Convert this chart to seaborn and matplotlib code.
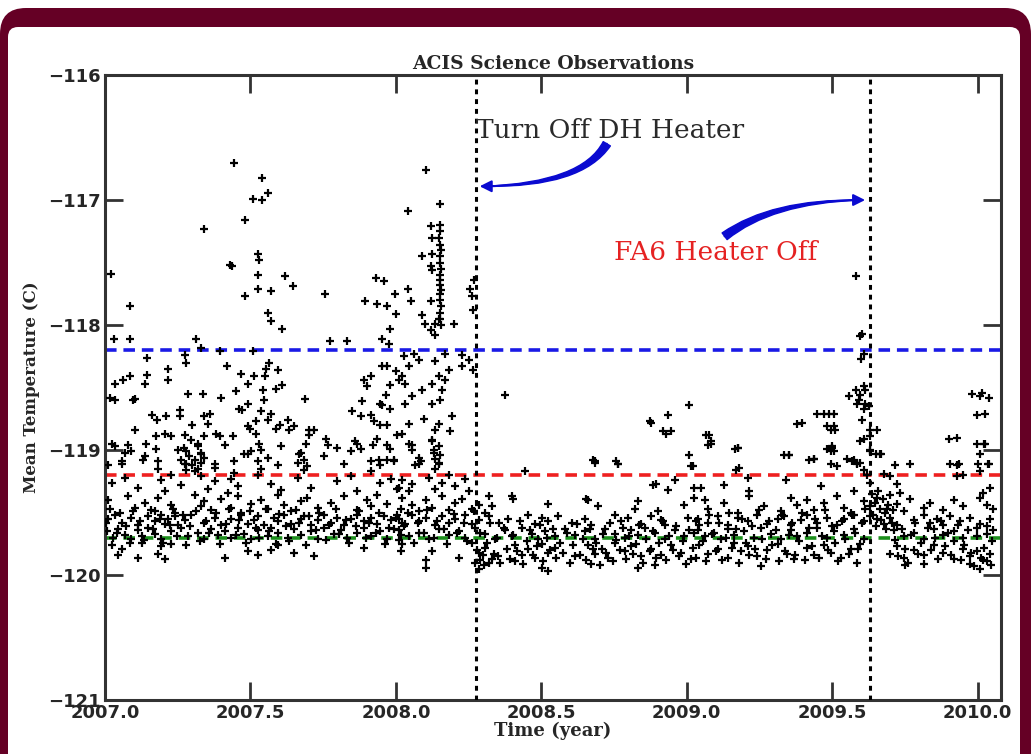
import pandas as pd
import matplotlib
matplotlib.use("Agg")
import matplotlib.pyplot as plt
import seaborn as sns
from matplotlib.patches import FancyBboxPatch
from matplotlib.transforms import IdentityTransform

# --- data: (year, mean temperature C) ---
high_2007 = [
    (2007.445, -116.70), (2007.54, -116.82), (2007.51, -116.99), (2007.54, -117.00), (2007.56, -116.94),
    (2007.48, -117.16), (2007.34, -117.23), (2007.43, -117.52), (2007.435, -117.53), (2007.525, -117.43),
    (2007.53, -117.48), (2007.525, -117.60), (2007.525, -117.71), (2007.48, -117.77), (2007.57, -117.73),
    (2007.62, -117.61), (2007.645, -117.69), (2007.56, -117.90), (2007.57, -117.97), (2007.61, -118.03),
    (2007.02, -117.59), (2007.085, -117.85), (2007.03, -118.11), (2007.085, -118.11), (2007.757, -117.75),
    (2007.93, -117.62), (2007.96, -117.65), (2007.894, -117.81), (2007.936, -117.83), (2007.97, -117.85),
    (2007.997, -117.75), (2008.0, -117.91), (2007.98, -118.03), (2007.976, -118.15), (2007.953, -118.11),
    (2007.774, -118.13), (2007.833, -118.13), (2007.314, -118.11), (2007.33, -118.18), (2007.394, -118.21),
    (2007.508, -118.21), (2007.143, -118.26), (2007.274, -118.24), (2007.28, -118.30), (2007.42, -118.33),
    (2007.217, -118.35), (2007.217, -118.44), (2007.143, -118.40), (2007.137, -118.47), (2007.034, -118.47),
    (2007.063, -118.44), (2007.085, -118.41), (2007.034, -118.60), (2007.103, -118.59), (2007.285, -118.55),
    (2007.337, -118.55), (2007.40, -118.58), (2007.468, -118.39), (2007.511, -118.41), (2007.55, -118.41),
    (2007.49, -118.47), (2007.565, -118.30), (2007.594, -118.36), (2007.554, -118.35), (2007.588, -118.51),
    (2007.61, -118.48), (2007.542, -118.52), (2007.45, -118.53), (2007.548, -118.60), (2007.462, -118.67),
    (2007.49, -118.63), (2007.688, -118.59), (2007.89, -118.44), (2007.913, -118.41), (2007.90, -118.49),
    (2007.953, -118.33), (2007.97, -118.33), (2008.0, -118.37), (2008.01, -118.44), (2007.965, -118.56),
    (2007.98, -118.48), (2007.885, -118.61), (2007.947, -118.63), (2007.16, -118.72), (2007.18, -118.76),
    (2007.21, -118.73), (2007.257, -118.68), (2007.257, -118.73), (2007.30, -118.80), (2007.34, -118.73),
    (2007.36, -118.71), (2007.354, -118.79), (2007.47, -118.68), (2007.537, -118.69), (2007.57, -118.71),
    (2007.60, -118.80), (2007.628, -118.76), (2007.65, -118.81), (2007.52, -118.77), (2007.56, -118.76),
    (2007.49, -118.81), (2007.85, -118.69), (2007.88, -118.73), (2007.913, -118.72), (2007.925, -118.77),
    (2007.947, -118.80), (2007.97, -118.80), (2007.953, -118.64), (2007.98, -118.67), (2007.103, -118.84),
    (2007.14, -118.95), (2007.177, -118.89), (2007.205, -118.87), (2007.228, -118.89), (2007.274, -118.88),
    (2007.297, -118.92), (2007.32, -118.95), (2007.34, -118.89), (2007.38, -118.87), (2007.394, -118.89),
    (2007.44, -118.89), (2007.497, -118.83), (2007.52, -118.87), (2007.53, -118.95), (2007.588, -118.83),
    (2007.634, -118.84), (2007.70, -118.84), (2007.70, -118.88), (2007.72, -118.84), (2007.69, -118.95),
    (2007.76, -118.91), (2007.765, -118.96), (2007.86, -118.93), (2007.88, -118.99), (2007.92, -118.96),
    (2007.936, -118.91), (2007.97, -118.96), (2007.98, -118.99), (2008.004, -118.88), (2007.017, -118.58),
    (2007.096, -118.60),
]

band_2007 = [
    (2007.034, -118.97), (2007.08, -118.96), (2007.091, -119.01), (2007.057, -119.11), (2007.131, -119.08),
    (2007.183, -119.09), (2007.28, -119.01), (2007.32, -118.97), (2007.331, -119.03), (2007.28, -119.11),
    (2007.377, -119.11), (2007.445, -119.09), (2007.479, -119.03), (2007.502, -119.01), (2007.685, -119.08),
    (2007.668, -119.03), (2007.913, -119.09), (2007.942, -119.08), (2007.97, -119.08), (2007.993, -119.08),
    (2007.27, -118.98), (2007.29, -119.05), (2007.31, -119.08), (2007.33, -119.02), (2007.30, -119.12),
    (2007.28, -119.16), (2007.32, -119.15), (2007.26, -119.08), (2007.25, -119.00),
    (2007.023, -118.95), (2007.068, -119.02), (2007.137, -119.05), (2007.177, -118.99), (2007.342, -119.06),
    (2007.411, -118.96), (2007.491, -119.03), (2007.537, -119.00), (2007.559, -119.06), (2007.605, -118.97),
    (2007.674, -119.02), (2007.753, -119.05), (2007.799, -118.98), (2007.845, -119.01), (2007.868, -118.95),
    (2007.011, -119.12), (2007.057, -119.09), (2007.183, -119.15), (2007.274, -119.11), (2007.308, -119.17),
    (2007.331, -119.10), (2007.377, -119.14), (2007.445, -119.18), (2007.525, -119.09), (2007.537, -119.15),
    (2007.594, -119.12), (2007.662, -119.10), (2007.685, -119.16), (2007.696, -119.13), (2007.822, -119.11),
    (2007.913, -119.17), (2007.947, -119.12), (2007.993, -119.09),
    (2007.023, -119.26), (2007.068, -119.22), (2007.114, -119.30), (2007.194, -119.24), (2007.205, -119.33),
    (2007.228, -119.20), (2007.263, -119.28), (2007.331, -119.21), (2007.354, -119.31), (2007.377, -119.25),
    (2007.422, -119.34), (2007.434, -119.23), (2007.457, -119.29), (2007.525, -119.20), (2007.571, -119.27),
    (2007.605, -119.32), (2007.662, -119.22), (2007.708, -119.30), (2007.799, -119.25), (2007.845, -119.21),
    (2007.868, -119.33), (2007.947, -119.26), (2007.982, -119.23), (2008.005, -119.31),
    (2007.011, -119.40), (2007.080, -119.37), (2007.103, -119.46), (2007.137, -119.42), (2007.171, -119.49),
    (2007.183, -119.38), (2007.228, -119.44), (2007.240, -119.50), (2007.308, -119.36), (2007.331, -119.45),
    (2007.342, -119.41), (2007.365, -119.48), (2007.400, -119.39), (2007.434, -119.46), (2007.457, -119.37),
    (2007.468, -119.50), (2007.502, -119.43), (2007.537, -119.40), (2007.559, -119.47), (2007.594, -119.36),
    (2007.616, -119.44), (2007.639, -119.49), (2007.674, -119.41), (2007.696, -119.38), (2007.731, -119.46),
    (2007.776, -119.42), (2007.822, -119.37), (2007.868, -119.48), (2007.902, -119.40), (2007.913, -119.45),
    (2007.936, -119.36), (2007.970, -119.43), (2008.016, -119.47),
    (2007.011, -119.55), (2007.034, -119.52), (2007.057, -119.58), (2007.091, -119.54), (2007.114, -119.60),
    (2007.148, -119.53), (2007.171, -119.57), (2007.194, -119.52), (2007.205, -119.59), (2007.217, -119.55),
    (2007.240, -119.53), (2007.251, -119.60), (2007.274, -119.56), (2007.297, -119.52), (2007.342, -119.58),
    (2007.377, -119.54), (2007.400, -119.60), (2007.434, -119.55), (2007.468, -119.52), (2007.491, -119.59),
    (2007.514, -119.56), (2007.525, -119.53), (2007.548, -119.60), (2007.582, -119.54), (2007.594, -119.57),
    (2007.616, -119.52), (2007.639, -119.59), (2007.674, -119.55), (2007.685, -119.53), (2007.708, -119.60),
    (2007.731, -119.56), (2007.753, -119.52), (2007.776, -119.58), (2007.799, -119.54), (2007.822, -119.60),
    (2007.845, -119.55), (2007.868, -119.52), (2007.890, -119.57), (2007.913, -119.54), (2007.936, -119.59),
    (2007.959, -119.53), (2007.982, -119.56), (2008.005, -119.52), (2008.022, -119.58),
    (2007.006, -119.65), (2007.029, -119.70), (2007.046, -119.63), (2007.068, -119.68), (2007.091, -119.71),
    (2007.114, -119.64), (2007.126, -119.69), (2007.148, -119.62), (2007.171, -119.67), (2007.194, -119.71),
    (2007.228, -119.65), (2007.263, -119.62), (2007.285, -119.69), (2007.320, -119.66), (2007.342, -119.71),
    (2007.365, -119.63), (2007.388, -119.68), (2007.411, -119.65), (2007.434, -119.70), (2007.457, -119.62),
    (2007.479, -119.67), (2007.502, -119.71), (2007.525, -119.64), (2007.559, -119.69), (2007.571, -119.62),
    (2007.594, -119.66), (2007.628, -119.70), (2007.651, -119.63), (2007.674, -119.68), (2007.708, -119.65),
    (2007.731, -119.71), (2007.753, -119.62), (2007.788, -119.67), (2007.811, -119.64), (2007.833, -119.70),
    (2007.868, -119.66), (2007.890, -119.62), (2007.913, -119.69), (2007.947, -119.65), (2007.970, -119.71),
    (2007.993, -119.63), (2008.016, -119.68),
    (2007.023, -119.76), (2007.046, -119.84), (2007.057, -119.79), (2007.114, -119.86), (2007.126, -119.74),
    (2007.183, -119.83), (2007.194, -119.77), (2007.205, -119.87), (2007.228, -119.75), (2007.411, -119.86),
    (2007.491, -119.81), (2007.525, -119.84), (2007.571, -119.80), (2007.594, -119.76), (2007.651, -119.82),
    (2007.719, -119.85), (2007.890, -119.78), (2008.016, -119.81),
]

high_2008 = [
    (2008.104, -116.76), (2008.153, -117.03), (2008.04, -117.09), (2008.12, -117.21), (2008.153, -117.20),
    (2008.153, -117.25), (2008.124, -117.30), (2008.147, -117.30), (2008.153, -117.36), (2008.155, -117.40),
    (2008.150, -117.45), (2008.153, -117.50), (2008.156, -117.55), (2008.152, -117.60), (2008.153, -117.64),
    (2008.150, -117.68), (2008.155, -117.72), (2008.153, -117.75), (2008.151, -117.80), (2008.154, -117.85),
    (2008.153, -117.90), (2008.150, -117.95), (2008.156, -118.00), (2008.124, -117.43), (2008.09, -117.45),
    (2008.12, -117.53), (2008.124, -117.56), (2008.04, -117.71), (2008.053, -117.81), (2008.12, -117.81),
    (2008.09, -117.92), (2008.10, -117.99), (2008.12, -118.04), (2008.136, -117.99), (2008.2, -117.99),
    (2008.136, -118.08), (2008.147, -117.95), (2008.256, -117.71), (2008.26, -117.77), (2008.264, -117.88),
    (2008.267, -117.64), (2008.227, -118.24), (2008.227, -118.33), (2008.25, -118.28), (2008.264, -118.36),
    (2008.376, -118.56), (2008.17, -118.23), (2008.124, -118.47), (2008.159, -118.52), (2008.153, -118.60),
    (2008.124, -118.63), (2008.090, -118.52), (2008.056, -118.57), (2008.033, -118.47), (2008.022, -118.41),
    (2008.045, -118.33), (2008.027, -118.25), (2008.079, -118.28), (2008.062, -118.23), (2008.182, -118.36),
    (2008.136, -118.29), (2008.193, -118.73), (2008.187, -118.85), (2008.147, -118.79), (2008.136, -118.84),
    (2008.096, -118.75), (2008.045, -118.79), (2008.033, -118.63), (2008.022, -118.87), (2008.056, -118.96),
    (2008.124, -118.92), (2008.130, -119.00), (2008.147, -119.11), (2008.079, -119.11), (2008.17, -118.44),
    (2008.147, -118.41), (2008.872, -118.77), (2008.935, -118.72), (2008.918, -118.85), (2008.947, -118.85),
    (2008.877, -118.78), (2008.93, -118.87), (2008.684, -119.09), (2008.764, -119.11), (2008.678, -119.08),
    (2008.758, -119.09),
]

band_2008 = [
    (2008.045, -118.95), (2008.056, -119.00), (2008.079, -119.06), (2008.124, -118.93), (2008.130, -119.02),
    (2008.136, -119.07), (2008.147, -118.97), (2008.150, -119.04),
    (2008.067, -119.12), (2008.085, -119.09), (2008.136, -119.15), (2008.147, -119.10), (2008.684, -119.10),
    (2008.764, -119.11), (2009.021, -119.13),
    (2008.010, -119.30), (2008.022, -119.24), (2008.045, -119.33), (2008.056, -119.27), (2008.113, -119.22),
    (2008.136, -119.31), (2008.159, -119.26), (2008.182, -119.20), (2008.204, -119.29), (2008.239, -119.23),
    (2008.250, -119.33), (2008.444, -119.17), (2008.895, -119.27), (2008.935, -119.32), (2008.958, -119.24),
    (2009.026, -119.30),
    (2008.022, -119.38), (2008.056, -119.44), (2008.079, -119.49), (2008.102, -119.40), (2008.124, -119.46),
    (2008.159, -119.37), (2008.182, -119.48), (2008.204, -119.42), (2008.227, -119.39), (2008.261, -119.47),
    (2008.284, -119.44), (2008.307, -119.50), (2008.319, -119.37), (2008.330, -119.45), (2008.404, -119.39),
    (2008.524, -119.43), (2008.661, -119.40), (2008.695, -119.45), (2008.832, -119.41), (2008.901, -119.49),
    (2008.992, -119.44), (2009.026, -119.38), (2008.399, -119.37), (2008.655, -119.39), (2008.821, -119.47),
    (2008.884, -119.28),
    (2008.010, -119.55), (2008.033, -119.59), (2008.056, -119.52), (2008.079, -119.57), (2008.102, -119.54),
    (2008.136, -119.60), (2008.159, -119.53), (2008.182, -119.58), (2008.204, -119.55), (2008.239, -119.52),
    (2008.261, -119.59), (2008.284, -119.56), (2008.319, -119.53), (2008.353, -119.58), (2008.387, -119.55),
    (2008.455, -119.52), (2008.478, -119.59), (2008.501, -119.54), (2008.524, -119.57), (2008.558, -119.53),
    (2008.604, -119.58), (2008.650, -119.55), (2008.672, -119.60), (2008.752, -119.52), (2008.775, -119.57),
    (2008.798, -119.54), (2008.844, -119.59), (2008.878, -119.53), (2008.912, -119.56), (2008.924, -119.60),
    (2009.003, -119.54), (2009.032, -119.57),
    (2008.010, -119.64), (2008.045, -119.69), (2008.079, -119.66), (2008.113, -119.71), (2008.147, -119.63),
    (2008.182, -119.68), (2008.216, -119.65), (2008.239, -119.70), (2008.273, -119.62), (2008.307, -119.67),
    (2008.341, -119.71), (2008.376, -119.64), (2008.398, -119.69), (2008.433, -119.62), (2008.467, -119.67),
    (2008.490, -119.71), (2008.513, -119.65), (2008.547, -119.69), (2008.581, -119.63), (2008.615, -119.68),
    (2008.650, -119.65), (2008.684, -119.71), (2008.718, -119.63), (2008.752, -119.67), (2008.787, -119.70),
    (2008.809, -119.64), (2008.832, -119.68), (2008.855, -119.62), (2008.889, -119.66), (2008.924, -119.71),
    (2008.958, -119.64), (2008.992, -119.69), (2009.026, -119.66),
    (2008.022, -119.75), (2008.124, -119.81), (2008.216, -119.86), (2008.261, -119.74), (2008.284, -119.82),
    (2008.307, -119.78), (2008.330, -119.87), (2008.410, -119.76), (2008.433, -119.84), (2008.455, -119.79),
    (2008.478, -119.86), (2008.501, -119.75), (2008.524, -119.82), (2008.547, -119.78), (2008.615, -119.85),
    (2008.661, -119.76), (2008.684, -119.83), (2008.707, -119.79), (2008.729, -119.86), (2008.752, -119.74),
    (2008.787, -119.81), (2008.809, -119.77), (2008.844, -119.85), (2008.878, -119.79), (2008.912, -119.84),
    (2008.946, -119.76), (2008.981, -119.82), (2009.015, -119.87), (2008.29, -119.88), (2008.30, -119.84),
    (2008.32, -119.90), (2008.35, -119.85),
    (2008.102, -119.88), (2008.102, -119.94), (2008.273, -119.90), (2008.284, -119.95), (2008.410, -119.89),
    (2008.501, -119.94), (2008.524, -119.97), (2008.672, -119.91), (2008.832, -119.94), (2008.889, -119.92),
]

high_2009 = [
    (2009.009, -118.64), (2009.066, -118.88), (2009.072, -118.96), (2009.164, -118.99), (2009.009, -119.04),
    (2009.015, -119.13), (2009.169, -119.16), (2009.38, -118.79), (2009.449, -118.71), (2009.489, -118.71),
    (2009.483, -118.81), (2009.495, -118.84), (2009.483, -118.99), (2009.495, -119.01), (2009.335, -119.04),
    (2009.42, -119.08), (2009.495, -119.11), (2009.552, -119.07), (2009.586, -119.11), (2009.557, -118.57),
    (2009.58, -118.52), (2009.592, -118.60), (2009.586, -118.63), (2009.609, -118.67), (2009.603, -118.76),
    (2009.609, -118.91), (2009.597, -118.93), (2009.631, -118.84), (2009.649, -119.03), (2009.90, -118.91),
    (2009.98, -118.55), (2010.008, -118.57), (2009.997, -118.72), (2009.997, -118.95), (2010.008, -119.03),
    (2009.905, -119.11), (2009.928, -119.21), (2009.583, -117.61), (2009.603, -118.07), (2009.597, -118.09),
    (2009.61, -118.23), (2009.60, -118.27), (2009.597, -118.56), (2009.614, -118.63), (2009.625, -118.65),
    (2009.61, -118.49), (2009.614, -118.52), (2009.654, -118.84), (2009.63, -118.89), (2009.63, -119.01),
    (2009.665, -119.03), (2009.397, -118.78), (2009.47, -118.71), (2009.505, -118.71), (2009.505, -118.81),
    (2009.51, -118.84), (2009.078, -118.88), (2009.083, -118.95), (2009.175, -118.98), (2009.5, -118.98),
    (2009.437, -119.07), (2009.35, -119.04), (2009.568, -119.09), (2010.014, -118.54), (2010.04, -118.58),
    (2010.025, -118.71), (2010.02, -118.95), (2010.04, -119.11), (2010.0, -119.11), (2009.928, -118.90),
    (2009.934, -119.11),
]

band_2009 = [
    (2009.083, -118.93), (2009.175, -118.98), (2009.352, -119.04), (2009.437, -119.07), (2009.500, -118.97),
    (2009.506, -119.01), (2009.574, -119.08), (2009.597, -119.10), (2009.631, -119.00), (2009.666, -119.03),
    (2010.025, -118.95),
    (2009.180, -119.14), (2009.517, -119.13), (2009.586, -119.10), (2009.608, -119.16), (2009.717, -119.12),
    (2009.768, -119.11), (2009.928, -119.12), (2010.008, -119.17), (2010.036, -119.11),
    (2009.049, -119.30), (2009.129, -119.28), (2009.209, -119.22), (2009.215, -119.33), (2009.340, -119.24),
    (2009.460, -119.29), (2009.574, -119.33), (2009.620, -119.20), (2009.631, -119.26), (2009.677, -119.19),
    (2009.700, -119.21), (2009.723, -119.27), (2009.734, -119.34), (2009.951, -119.20), (2010.019, -119.34),
    (2010.042, -119.30),
    (2009.061, -119.40), (2009.072, -119.47), (2009.129, -119.42), (2009.175, -119.50), (2009.215, -119.37),
    (2009.266, -119.45), (2009.323, -119.49), (2009.357, -119.38), (2009.380, -119.44), (2009.414, -119.40),
    (2009.437, -119.48), (2009.472, -119.42), (2009.517, -119.37), (2009.540, -119.46), (2009.563, -119.50),
    (2009.608, -119.41), (2009.631, -119.45), (2009.654, -119.38), (2009.688, -119.47), (2009.723, -119.43),
    (2009.746, -119.49), (2009.768, -119.39), (2009.814, -119.46), (2009.837, -119.42), (2009.882, -119.48),
    (2009.917, -119.40), (2009.951, -119.45), (2010.008, -119.38), (2010.031, -119.44), (2010.054, -119.47),
    (2009.038, -119.55), (2009.072, -119.58), (2009.106, -119.53), (2009.140, -119.60), (2009.175, -119.54),
    (2009.209, -119.57), (2009.243, -119.52), (2009.277, -119.59), (2009.312, -119.55), (2009.335, -119.53),
    (2009.357, -119.60), (2009.392, -119.56), (2009.414, -119.52), (2009.449, -119.58), (2009.483, -119.54),
    (2009.517, -119.60), (2009.540, -119.55), (2009.574, -119.52), (2009.608, -119.57), (2009.631, -119.53),
    (2009.654, -119.55), (2009.677, -119.59), (2009.700, -119.54), (2009.723, -119.60), (2009.780, -119.56),
    (2009.814, -119.52), (2009.837, -119.58), (2009.860, -119.55), (2009.882, -119.60), (2009.905, -119.53),
    (2009.940, -119.57), (2009.974, -119.54), (2010.008, -119.59), (2010.042, -119.55),
    (2009.038, -119.64), (2009.061, -119.69), (2009.095, -119.66), (2009.118, -119.71), (2009.140, -119.63),
    (2009.163, -119.68), (2009.198, -119.65), (2009.232, -119.70), (2009.255, -119.62), (2009.289, -119.67),
    (2009.323, -119.71), (2009.357, -119.64), (2009.380, -119.69), (2009.414, -119.66), (2009.449, -119.62),
    (2009.483, -119.70), (2009.506, -119.65), (2009.540, -119.68), (2009.574, -119.63), (2009.608, -119.71),
    (2009.711, -119.64), (2009.746, -119.69), (2009.780, -119.66), (2009.814, -119.71), (2009.848, -119.63),
    (2009.882, -119.68), (2009.917, -119.65), (2009.951, -119.70), (2009.997, -119.62), (2010.031, -119.67),
    (2010.054, -119.64),
    (2009.043, -119.76), (2009.072, -119.83), (2009.106, -119.79), (2009.140, -119.86), (2009.163, -119.74),
    (2009.186, -119.81), (2009.209, -119.77), (2009.243, -119.85), (2009.277, -119.80), (2009.312, -119.75),
    (2009.346, -119.83), (2009.369, -119.87), (2009.414, -119.78), (2009.437, -119.84), (2009.472, -119.76),
    (2009.494, -119.82), (2009.529, -119.86), (2009.563, -119.79), (2009.597, -119.75), (2009.700, -119.83),
    (2009.723, -119.77), (2009.746, -119.86), (2009.780, -119.80), (2009.814, -119.84), (2009.848, -119.76),
    (2009.882, -119.82), (2009.917, -119.87), (2009.951, -119.79), (2009.974, -119.85), (2009.997, -119.81),
    (2010.019, -119.88), (2010.042, -119.83),
    (2009.255, -119.93), (2009.586, -119.90), (2009.751, -119.92), (2009.974, -119.91), (2010.008, -119.95),
    (2010.031, -119.89),
]

# the packed core of the band
band_core = [
    (2007.004, -119.58), (2007.017, -119.47), (2007.040, -119.66), (2007.052, -119.50), (2007.074, -119.61),
    (2007.086, -119.74), (2007.097, -119.49), (2007.120, -119.57), (2007.133, -119.72), (2007.157, -119.48),
    (2007.165, -119.63), (2007.188, -119.55), (2007.199, -119.74), (2007.222, -119.60), (2007.234, -119.47),
    (2007.246, -119.69), (2007.268, -119.52), (2007.280, -119.76), (2007.292, -119.61), (2007.314, -119.49),
    (2007.326, -119.73), (2007.348, -119.57), (2007.359, -119.66), (2007.382, -119.50), (2007.394, -119.75),
    (2007.417, -119.59), (2007.428, -119.47), (2007.451, -119.68), (2007.462, -119.56), (2007.485, -119.74),
    (2007.497, -119.49), (2007.519, -119.62), (2007.531, -119.70), (2007.553, -119.47), (2007.565, -119.65),
    (2007.588, -119.75), (2007.599, -119.51), (2007.622, -119.61), (2007.633, -119.73), (2007.656, -119.48),
    (2007.668, -119.58), (2007.691, -119.76), (2007.702, -119.53), (2007.725, -119.64), (2007.737, -119.50),
    (2007.759, -119.72), (2007.771, -119.60), (2007.794, -119.47), (2007.805, -119.67), (2007.828, -119.56),
    (2007.839, -119.74), (2007.862, -119.61), (2007.873, -119.49), (2007.896, -119.70), (2007.907, -119.58),
    (2007.930, -119.66), (2007.942, -119.50), (2007.964, -119.75), (2007.976, -119.62), (2007.999, -119.54),
    (2008.011, -119.72), (2008.028, -119.61), (2008.040, -119.50), (2008.063, -119.74), (2008.075, -119.58),
    (2008.097, -119.66), (2008.108, -119.48), (2008.131, -119.70), (2008.142, -119.57), (2008.165, -119.63),
    (2008.177, -119.75), (2008.199, -119.51), (2008.210, -119.66), (2008.233, -119.58), (2008.245, -119.73),
    (2008.267, -119.49),
    (2008.279, -119.80), (2008.290, -119.66), (2008.302, -119.92), (2008.313, -119.74), (2008.325, -119.58),
    (2008.336, -119.83), (2008.347, -119.70), (2008.359, -119.90), (2008.370, -119.62), (2008.382, -119.79),
    (2008.393, -119.87), (2008.404, -119.68), (2008.416, -119.81), (2008.427, -119.57), (2008.438, -119.91),
    (2008.450, -119.73), (2008.461, -119.64), (2008.473, -119.84), (2008.484, -119.77), (2008.495, -119.60),
    (2008.507, -119.89), (2008.518, -119.70), (2008.530, -119.80), (2008.541, -119.63), (2008.552, -119.86),
    (2008.564, -119.74), (2008.575, -119.82), (2008.587, -119.66), (2008.598, -119.90), (2008.609, -119.76),
    (2008.621, -119.59), (2008.632, -119.84), (2008.644, -119.71), (2008.655, -119.88), (2008.666, -119.63),
    (2008.678, -119.79), (2008.689, -119.74), (2008.701, -119.92), (2008.712, -119.67), (2008.723, -119.82),
    (2008.735, -119.58), (2008.746, -119.89), (2008.758, -119.72), (2008.769, -119.80), (2008.780, -119.62),
    (2008.792, -119.87), (2008.803, -119.69), (2008.815, -119.83), (2008.826, -119.75), (2008.837, -119.60),
    (2008.849, -119.90), (2008.860, -119.71), (2008.872, -119.81), (2008.883, -119.65), (2008.894, -119.86),
    (2008.906, -119.74), (2008.917, -119.57), (2008.929, -119.88), (2008.940, -119.69), (2008.951, -119.80),
    (2008.963, -119.61), (2008.974, -119.85), (2008.986, -119.73), (2008.997, -119.91), (2009.008, -119.64),
    (2009.020, -119.78),
    (2009.031, -119.86), (2009.043, -119.60), (2009.054, -119.73), (2009.065, -119.89), (2009.077, -119.52),
    (2009.088, -119.67), (2009.100, -119.81), (2009.111, -119.58), (2009.122, -119.88), (2009.134, -119.70),
    (2009.145, -119.50), (2009.157, -119.78), (2009.168, -119.63), (2009.179, -119.90), (2009.191, -119.55),
    (2009.202, -119.74), (2009.214, -119.84), (2009.225, -119.61), (2009.236, -119.79), (2009.248, -119.48),
    (2009.259, -119.71), (2009.271, -119.87), (2009.282, -119.57), (2009.293, -119.76), (2009.305, -119.64),
    (2009.316, -119.89), (2009.328, -119.52), (2009.339, -119.81), (2009.350, -119.68), (2009.362, -119.58),
    (2009.373, -119.84), (2009.385, -119.73), (2009.396, -119.50), (2009.407, -119.88), (2009.419, -119.62),
    (2009.430, -119.77), (2009.442, -119.55), (2009.453, -119.86), (2009.464, -119.69), (2009.476, -119.48),
    (2009.487, -119.80), (2009.499, -119.61), (2009.510, -119.74), (2009.521, -119.89), (2009.533, -119.57),
    (2009.544, -119.71), (2009.556, -119.83), (2009.567, -119.52), (2009.578, -119.66), (2009.590, -119.79),
    (2009.601, -119.58), (2009.612, -119.47),
    (2009.636, -119.35), (2009.641, -119.52), (2009.647, -119.42), (2009.652, -119.61), (2009.658, -119.33),
    (2009.663, -119.47), (2009.669, -119.56), (2009.675, -119.39), (2009.680, -119.50), (2009.686, -119.63),
    (2009.692, -119.44), (2009.698, -119.36), (2009.704, -119.58), (2009.710, -119.48),
    (2009.716, -119.72), (2009.727, -119.85), (2009.738, -119.63), (2009.749, -119.79), (2009.761, -119.90),
    (2009.772, -119.68), (2009.783, -119.58), (2009.795, -119.83), (2009.806, -119.74), (2009.817, -119.91),
    (2009.829, -119.62), (2009.840, -119.80), (2009.852, -119.70), (2009.863, -119.87), (2009.874, -119.57),
    (2009.886, -119.77), (2009.897, -119.66), (2009.908, -119.84), (2009.920, -119.73), (2009.931, -119.60),
    (2009.942, -119.88), (2009.954, -119.76), (2009.965, -119.64), (2009.976, -119.82), (2009.988, -119.93),
    (2009.999, -119.69), (2010.010, -119.86), (2010.022, -119.78), (2010.033, -119.61), (2010.045, -119.92),
    (2010.050, -119.73),
]

# reference levels and events
limit_levels = [-118.2, -119.2, -119.7]
limit_colors = ["#1a1ae6", "#ee2020", "#1c8f1c"]
event_years = [2008.274, 2009.63]
event_labels = ["Turn Off DH Heater", "FA6 Heater Off"]

df = pd.DataFrame(high_2007 + band_2007 + high_2008 + band_2008 + high_2009 + band_2009 + band_core,
                  columns=["year", "temp"])

# --- figure ---
sns.set_style("ticks")
plt.rcParams["font.family"] = ["DejaVu Sans"]

fig = plt.figure(figsize=(10.31, 7.54), dpi=100)
fig.patch.set_facecolor("white")

# maroon rounded frame behind the plot
frame = FancyBboxPatch((0, -30), 1031, 776, boxstyle="round,pad=0,rounding_size=26",
                       transform=IdentityTransform(), facecolor="#650025", edgecolor="none", zorder=-3)
inner = FancyBboxPatch((8, -30), 1012, 757, boxstyle="round,pad=0,rounding_size=10",
                       transform=IdentityTransform(), facecolor="white", edgecolor="none", zorder=-2)
fig.add_artist(frame)
fig.add_artist(inner)

ax = fig.add_axes([0.1018, 0.0716, 0.8691, 0.8289])

sns.scatterplot(data=df, x="year", y="temp", marker="+", color="black", s=28,
                linewidth=1.6, ax=ax, zorder=3)

for lvl, col in zip(limit_levels, limit_colors):
    ax.axhline(lvl, color=col, lw=2.6, ls=(0, (3.2, 1.9)), zorder=2)
for yr in event_years:
    ax.axvline(yr, color="black", lw=2.2, ls=(0, (1.6, 1.6)), zorder=4)

ax.set_xlim(2007.0, 2010.08)
ax.set_ylim(-121, -116)
ax.set_xticks([2007.0, 2007.5, 2008.0, 2008.5, 2009.0, 2009.5, 2010.0])
ax.set_xticklabels(["2007.0", "2007.5", "2008.0", "2008.5", "2009.0", "2009.5", "2010.0"])
ax.set_yticks([-121, -120, -119, -118, -117, -116])

ax.tick_params(direction="in", length=13, width=2, top=True, right=True,
               labelsize=13, pad=3, color="#333333")
for lab in ax.get_xticklabels() + ax.get_yticklabels():
    lab.set_fontweight("bold")
for sp in ax.spines.values():
    sp.set_visible(True)
    sp.set_linewidth(2.2)
    sp.set_color("#333333")

ax.set_title("ACIS Science Observations", fontsize=13.5, fontweight="bold",
             family="DejaVu Serif", pad=4)
ax.set_xlabel("Time (year)", fontsize=13, fontweight="bold", family="DejaVu Serif", labelpad=0)
ax.set_ylabel("Mean Temperature (C)", fontsize=12, fontweight="bold", family="DejaVu Serif",
              labelpad=6)

# --- event annotations ---
ax.text(event_years[0], -116.44, event_labels[0], fontsize=19, family="DejaVu Serif",
        color="#2a2a2a", ha="left", va="center", zorder=5)
ax.text(2008.75, -117.42, event_labels[1], fontsize=19, family="DejaVu Serif",
        color="#e52222", ha="left", va="center", zorder=5)

arrow_color = "#0a0ad0"
arrows = [
    ((2008.288, -116.89), (2008.725, -116.55), "angle3,angleA=59,angleB=0"),
    ((2009.613, -117.00), (2009.130, -117.29), "angle3,angleA=37,angleB=0"),
]
for head, tail, conn in arrows:
    ax.annotate("", xy=head, xytext=tail,
                arrowprops=dict(arrowstyle="wedge,tail_width=0.3", fc=arrow_color, ec=arrow_color,
                                lw=1, connectionstyle=conn, shrinkA=0, shrinkB=4,
                                mutation_scale=20), zorder=5)
    ax.annotate("", xy=head, xytext=tail,
                arrowprops=dict(arrowstyle="-|>,head_length=0.5,head_width=0.25", fc=arrow_color,
                                ec=arrow_color, lw=1.5, connectionstyle=conn, shrinkA=0, shrinkB=0,
                                mutation_scale=14), zorder=5)

fig.savefig("out.png", dpi=100)
